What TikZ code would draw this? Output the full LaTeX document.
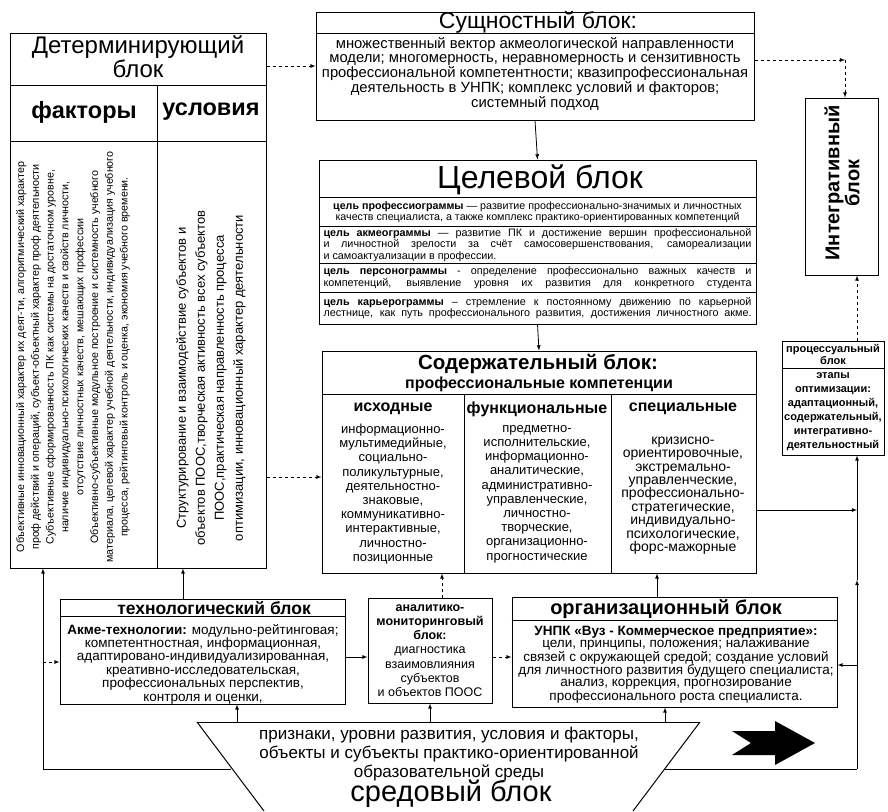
\documentclass[tikz,border=0pt]{standalone}
\usepackage{fontspec}
\setmainfont{Liberation Sans}
\newcommand{\fsz}[2]{\fontsize{#1}{#2}\selectfont}
\newcommand{\jline}[1]{\makebox[428pt][s]{#1}}
\newcommand{\lline}[1]{\makebox[428pt][l]{#1}}

\begin{document}
\begin{tikzpicture}[x=1pt,y=-1pt,line width=1pt,>=latex,
  blk/.style={draw,inner sep=0pt},
  txt/.style={inner sep=0pt,align=center},
  conn/.style={line width=0.8pt,->},
  dconn/.style={line width=0.8pt,->,dashed}]
\useasboundingbox (0,0) rectangle (888,811);

% determining block
\node[blk,minimum width=256pt,minimum height=535pt] (det) at (138,300.5) {};
\draw (det.west |- 0,85) -- (det.east |- 0,85);
\draw (det.west |- 0,141) -- (det.east |- 0,141);
\draw (157,85) -- (157,568);
\node[txt,font=\fsz{24}{22}] (detT) at (138,57) {Детерминирующий\\блок};
\node[txt,font=\bfseries\fsz{23.5}{24}] (fakT) at (84,112) {факторы};
\node[txt,font=\bfseries\fsz{23.5}{24}] (uslT) at (211,112) {условия};
\node[txt,rotate=90,font=\fsz{10.7}{14.8}] (fakText) at (73,357) {%
Объективные инновационный характер их деят-ти, алгоритмический характер\\
проф действий и операций, субъект-объектный характер проф деятельности\\
Субъективные сформированность ПК как системы на достаточном уровне,\\
наличие индивидуально-психологических качеств и свойств личности,\\
отсутствие личностных качеств, мешающих профессии\\
Объективно-субъективные модульное построение и системность учебного\\
материала, целевой характер учебной деятельности, индивидуализация учебного\\
процесса, рейтинговый контроль и оценка, экономия учебного времени.};
\node[txt,rotate=90,font=\fsz{13}{19}] (uslText) at (211,378) {%
Структурирование и взаимодействие субъектов и\\
объектов ПООС,творческая активность всех субъектов\\
ПООС,практическая направленность процесса\\
оптимизации, инновационный характер деятельности};

% essential block
\node[blk,minimum width=438pt,minimum height=108pt] (sush) at (535,66) {};
\draw (sush.west |- 0,33) -- (sush.east |- 0,33);
\node[txt,font=\fsz{23}{24}] (sushT) at (538,22) {Сущностный блок:};
\node[txt,font=\fsz{14.8}{14}] (sushText) at (535,74) {%
множественный вектор акмеологической направленности\\
модели; многомерность, неравномерность и сензитивность\\
профессиональной компетентности; квазипрофессиональная\\
деятельность в УНПК; комплекс условий и факторов;\\
системный подход};

% target block
\node[blk,minimum width=437pt,minimum height=164pt] (celev) at (537.5,242) {};
\draw (celev.west |- 0,197) -- (celev.east |- 0,197);
\draw (celev.west |- 0,226) -- (celev.east |- 0,226);
\draw (celev.west |- 0,263) -- (celev.east |- 0,263);
\draw (celev.west |- 0,292) -- (celev.east |- 0,292);
\node[txt,font=\fsz{32}{32}] (celevT) at (540,180) {Целевой блок};
\node[txt,font=\fsz{10.7}{11.5}] (cel1) at (537.5,212) {%
\textbf{цель профессиограммы} — развитие профессионально-значимых и личностных\\
качеств специалиста, а также комплекс практико-ориентированных компетенций};
\node[txt,align=left,font=\fsz{10.8}{11.5}] (cel2) at (537.5,245) {%
\jline{\textbf{цель акмеограммы} — развитие ПК и достижение вершин профессиональной}\\
\jline{и личностной зрелости за счёт самосовершенствования, самореализации}\\
\lline{и самоактуализации в профессии.}};
\node[txt,align=left,font=\fsz{10.8}{11.5}] (cel3) at (537.5,277.5) {%
\jline{\textbf{цель персонограммы} - определение профессионально важных качеств и}\\
\jline{компетенций, выявление уровня их развития для конкретного студента}};
\node[txt,align=left,font=\fsz{10.8}{11.5}] (cel4) at (537.5,308) {%
\jline{\textbf{цель карьерограммы} – стремление к постоянному движению по карьерной}\\
\jline{лестнице, как путь профессионального развития, достижения личностного акме.}};

% content block
\node[blk,minimum width=434pt,minimum height=222pt] (soder) at (539,462) {};
\draw (soder.west |- 0,394) -- (soder.east |- 0,394);
\draw (464,394) -- (464,573);
\draw (611,394) -- (611,573);
\node[txt,font=\bfseries\fsz{20.5}{20}] (soderT) at (538,364) {Содержательный блок:};
\node[txt,font=\bfseries\fsz{16}{17}] (soderS) at (539,384) {профессиональные компетенции};
\node[txt,font=\bfseries\fsz{16}{18}] (ishT) at (393,409) {исходные};
\node[txt,font=\bfseries\fsz{16}{18}] (funT) at (537,409) {функциональные};
\node[txt,font=\bfseries\fsz{16}{18}] (speT) at (683,409) {специальные};
\node[txt,font=\fsz{13}{14.2}] (ishText) at (393,494) {%
информационно-\\мультимедийные,\\социально-\\поликультурные,\\деятельностно-\\
знаковые,\\коммуникативно-\\интерактивные,\\личностно-\\позиционные};
\node[txt,font=\fsz{13}{14.2}] (funText) at (537,494) {%
предметно-\\исполнительские,\\информационно-\\аналитические,\\административно-\\
управленческие,\\личностно-\\творческие,\\организационно-\\прогностические};
\node[txt,font=\fsz{14}{13.4}] (speText) at (683,495.5) {%
кризисно-\\ориентировочные,\\экстремально-\\управленческие,\\профессионально-\\
стратегические,\\индивидуально-\\психологические,\\форс-мажорные};

% integrative and procedural blocks
\node[blk,minimum width=73pt,minimum height=177pt] (integr) at (841.5,186.5) {};
\node[txt,rotate=90,font=\bfseries\fsz{20}{20}] (integrT) at (842,183) {Интегративный\\блок};
\node[blk,minimum width=102pt,minimum height=114pt] (proc) at (833,398) {};
\draw (proc.west |- 0,368) -- (proc.east |- 0,368);
\node[txt,font=\bfseries\fsz{11}{12}] (procT) at (833,354) {процессуальный\\блок};
\node[txt,font=\bfseries\fsz{11}{14}] (procText) at (833,412) {%
этапы\\оптимизации:\\адаптационный,\\содержательный,\\интегративно-\\деятельностный};

% technological block
\node[blk,minimum width=285pt,minimum height=105pt] (tech) at (202.5,651.5) {};
\draw (tech.west |- 0,616) -- (tech.east |- 0,616);
\node[txt,font=\bfseries\fsz{17.5}{18}] (techT) at (214,608) {технологический блок};
\node[txt,font=\fsz{13.5}{13.4}] (techText) at (203,664) {%
\textbf{Акме-технологии:} модульно-рейтинговая;\\
компетентностная, информационная,\\
адаптировано-индивидуализированная,\\
креативно-исследовательская,\\
профессиональных перспектив,\\
контроля и оценки,};

% analytic block
\node[blk,minimum width=124pt,minimum height=105pt] (anal) at (430,650.5) {};
\node[txt,font=\fsz{12.5}{14.2}] (analText) at (430,650.5) {%
\textbf{аналитико-}\\\textbf{мониторинговый}\\\textbf{блок:}\\
диагностика\\взаимовлияния\\субъектов\\и объектов ПООС};

% organisational block
\node[blk,minimum width=325pt,minimum height=110pt] (org) at (674.5,652) {};
\draw (org.west |- 0,620) -- (org.east |- 0,620);
\node[txt,font=\bfseries\fsz{20}{20}] (orgT) at (666,609) {организационный блок};
\node[txt,font=\fsz{13.5}{12.2}] (orgText) at (676,664.5) {%
\textbf{УНПК «Вуз - Коммерческое предприятие»:}\\
цели, принципы, положения; налаживание\\
связей с окружающей средой; создание условий\\
для личностного развития будущего специалиста;\\
анализ, коррекция, прогнозирование\\
профессионального роста специалиста.};

% environment block (funnel)
\coordinate (fT) at (0,722);
\draw (197,722) -- (700,722);
\draw (197,722) -- (264,811);
\draw (700,722) -- (633,811);
\node[txt,font=\fsz{17}{19}] (sredText) at (449,754) {%
признаки, уровни развития, условия и факторы,\\
объекты и субъекты практико-ориентированной\\
образовательной среды};
\node[txt,font=\fsz{29}{30}] (sredT) at (451,794) {средовый блок};
\fill (732,731) -- (775,731) -- (775,721) -- (815,743) -- (775,765) -- (775,755)
  -- (732,755) -- (751,743) -- cycle;

% connectors
\coordinate (cI) at (845,60);
\coordinate (rB) at (857,769);
\coordinate (lB) at (43,769);
\draw[dconn] (det.east |- sush.west) -- (sush.west);
\draw[conn] (sush.south) -- (celev.north);
\draw[dconn] (sush.east |- cI) -- (cI);
\draw[dconn] (cI) -- (cI |- integr.north);
\draw[conn] (celev.south) -- (soder.north);
\draw[dconn] (det.east |- 0,477) -- (soder.west |- 0,477);
\draw[conn] (soder.east |- 0,510) -- (rB |- 0,510);
\draw[line width=0.8pt] (665,769) -- (rB);
\draw[conn] (rB) -- (rB |- 0,580);
\draw[conn] (rB |- 0,580) -- (rB |- proc.south);
\draw[conn] (rB |- 0,665) -- (org.east |- 0,665);
\draw[dconn] (rB |- proc.north) -- (rB |- integr.south);
\draw[line width=0.8pt] (231,769) -- (lB);
\draw[conn] (lB) -- (lB |- det.south);
\draw[dconn] (lB |- 0,662) -- (tech.west |- 0,662);
\draw[conn] (tech.north -| 183,0) -- (det.south -| 183,0);
\draw[conn] (tech.east |- 0,657) -- (anal.west |- 0,657);
\draw[dconn] (anal.east |- 0,657) -- (org.west |- 0,657);
\draw[dconn] (anal.north -| 442,0) -- (soder.south -| 442,0);
\draw[conn] (org.north -| 657,0) -- (soder.south -| 657,0);
\draw[conn] (fT -| 237,0) -- (tech.south -| 237,0);
\draw[conn] (fT -| anal.south) -- (anal.south);
\draw[conn] (fT -| 665,0) -- (org.south -| 665,0);
\end{tikzpicture}
\end{document}
